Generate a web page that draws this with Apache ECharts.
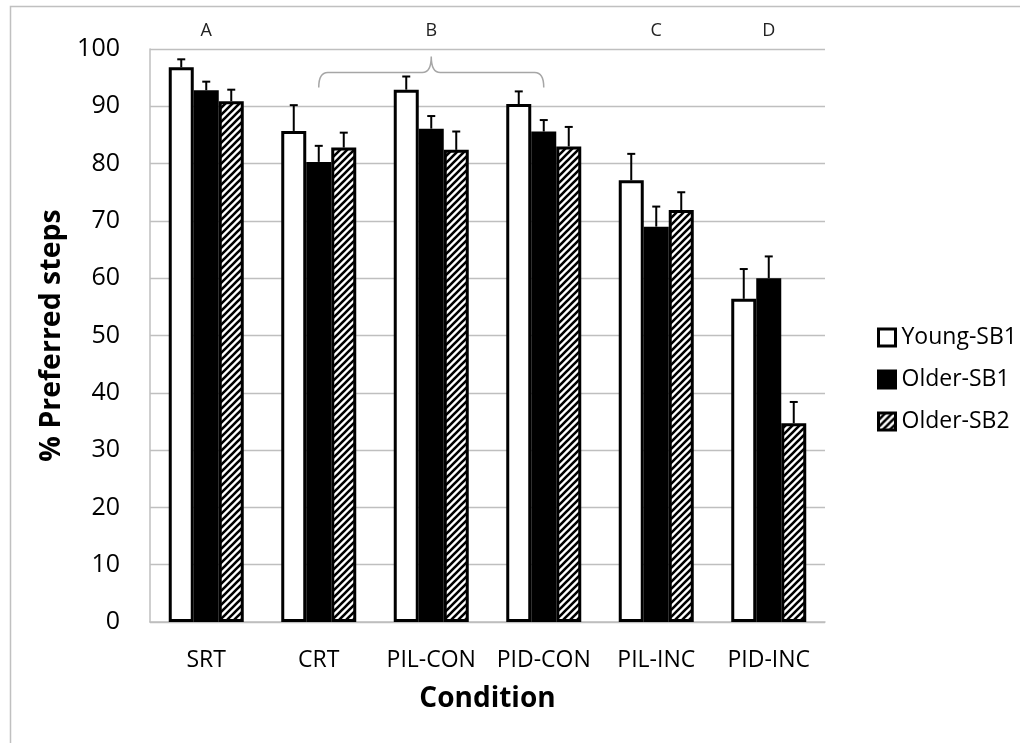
<!DOCTYPE html>
<html>
<head>
<meta charset="utf-8">
<script src="https://cdn.jsdelivr.net/npm/echarts@6/dist/echarts.min.js"></script>
<style>
html,body{margin:0;padding:0;background:#fff;}
#chart{width:1020px;height:743px;}
</style>
</head>
<body>
<div id="chart"></div>
<script>
// ---- data ----
const categories = ['SRT', 'CRT', 'PIL-CON', 'PID-CON', 'PIL-INC', 'PID-INC'];
const seriesNames = ['Young-SB1', 'Older-SB1', 'Older-SB2'];
const youngSB1 = [96.8, 85.7, 92.9, 90.4, 77.1, 56.4];
const olderSB1 = [92.8, 80.3, 86.1, 85.6, 69.0, 60.0];
const olderSB2 = [90.9, 82.8, 82.4, 83.0, 71.9, 34.7];
const youngSB1Err = [1.4, 4.5, 2.3, 2.2, 4.6, 5.2];
const olderSB1Err = [1.5, 2.8, 2.2, 2.0, 3.5, 3.8];
const olderSB2Err = [2.0, 2.6, 3.2, 3.4, 3.1, 3.7];
const yTicks = [0, 10, 20, 30, 40, 50, 60, 70, 80, 90, 100];
// significance groups (category index -> letter)
const groupLetterIndex = [0, 2, 4, 5];
const groupLetters = ['A', 'B', 'C', 'D'];
const braceRange = [1, 3]; // from CRT to PID-CON (group B)

// ---- styles ----
const FONT = 'Open Sans';
const BAR_W = 25;

function makeHatch() {
  const s = 7;
  const c = document.createElement('canvas');
  c.width = s; c.height = s;
  const g = c.getContext('2d');
  g.fillStyle = '#fff';
  g.fillRect(0, 0, s, s);
  g.strokeStyle = '#000';
  g.lineWidth = 2.6;
  g.beginPath();
  g.moveTo(-1, s + 1); g.lineTo(s + 1, -1);
  g.moveTo(-1, 1); g.lineTo(1, -1);
  g.moveTo(s - 1, s + 1); g.lineTo(s + 1, s - 1);
  g.stroke();
  return c;
}
const hatch = { image: makeHatch(), repeat: 'repeat' };

const values = [youngSB1, olderSB1, olderSB2];
const errs = [youngSB1Err, olderSB1Err, olderSB2Err];
const fills = ['#ffffff', '#000000', hatch];

const chart = echarts.init(document.getElementById('chart'), null, { renderer: 'canvas' });

const barSeries = seriesNames.map((name, i) => ({
  name: name,
  type: 'bar',
  data: values[i],
  barWidth: BAR_W,
  barGap: '0%',
  itemStyle: { color: fills[i], borderColor: '#000', borderWidth: 3 },
  emphasis: { disabled: true },
  z: 2
}));

const errSeries = seriesNames.map((name, i) => ({
  type: 'custom',
  silent: true,
  z: 3,
  data: values[i].map((v, k) => [k, v + errs[i][k], v]),
  renderItem: function (params, api) {
    const idx = api.value(0);
    const top = api.coord([idx, api.value(1)]);
    const base = api.coord([idx, api.value(2)]);
    const x = top[0] + (i - 1) * BAR_W;
    const cap = 4;
    return {
      type: 'group',
      children: [
        { type: 'line', shape: { x1: x, y1: base[1], x2: x, y2: top[1] }, style: { stroke: '#000', lineWidth: 2 } },
        { type: 'line', shape: { x1: x - cap, y1: top[1], x2: x + cap, y2: top[1] }, style: { stroke: '#000', lineWidth: 2 } }
      ]
    };
  }
}));

const letterSeries = {
  type: 'custom',
  silent: true,
  clip: false,
  data: groupLetterIndex.map(k => [k, 103.2]),
  renderItem: function (params, api) {
    const p = api.coord([api.value(0), api.value(1)]);
    return {
      type: 'text',
      x: p[0], y: p[1],
      style: {
        text: groupLetters[params.dataIndex], fill: '#222',
        fontSize: 18, fontFamily: FONT,
        align: 'center', verticalAlign: 'middle'
      }
    };
  }
};

const braceSeries = {
  type: 'custom',
  silent: true,
  clip: false,
  data: [[braceRange[0], braceRange[1]]],
  renderItem: function (params, api) {
    const a = api.coord([api.value(0), 95.9]);
    const b = api.coord([api.value(1), 95.9]);
    const yH = a[1];
    const yEnd = api.coord([0, 93.3])[1];
    const yPeak = api.coord([0, 98.7])[1];
    const x1 = a[0], x2 = b[0], xm = (x1 + x2) / 2, r = 9;
    const d = 'M' + x1 + ' ' + yEnd + ' Q' + x1 + ' ' + yH + ' ' + (x1 + r) + ' ' + yH +
      ' L' + (xm - r) + ' ' + yH + ' Q' + xm + ' ' + yH + ' ' + xm + ' ' + yPeak +
      ' Q' + xm + ' ' + yH + ' ' + (xm + r) + ' ' + yH +
      ' L' + (x2 - r) + ' ' + yH + ' Q' + x2 + ' ' + yH + ' ' + x2 + ' ' + yEnd;
    return { type: 'path', shape: { pathData: d }, style: { fill: null, stroke: '#a6a6a6', lineWidth: 1.5 } };
  }
};

const option = {
  animation: false,
  backgroundColor: '#fff',
  graphic: [{
    type: 'rect', left: 8, top: 4, silent: true,
    shape: { width: 1100, height: 900 },
    style: { fill: null, stroke: '#c0c0c0', lineWidth: 1.5 }
  }],
  grid: { left: 150, right: 195, top: 49, bottom: 121 },
  legend: {
    orient: 'vertical',
    left: 872,
    top: 321,
    itemWidth: 17,
    itemHeight: 17,
    itemGap: 19,
    icon: 'rect',
    data: seriesNames,
    itemStyle: { borderColor: '#000', borderWidth: 3 },
    textStyle: { fontFamily: FONT, fontSize: 23, color: '#000', padding: [0, 0, 0, 1] },
    selectedMode: false
  },
  xAxis: {
    type: 'category',
    data: categories,
    axisTick: { show: false },
    axisLine: { lineStyle: { color: '#bfbfbf', width: 1.5 } },
    axisLabel: { interval: 0, fontFamily: FONT, fontSize: 23, color: '#000', margin: 27 },
    name: 'Condition',
    nameLocation: 'middle',
    nameGap: 63,
    nameTextStyle: { fontFamily: FONT, fontSize: 28, fontWeight: 'bold', color: '#000' }
  },
  yAxis: {
    type: 'value',
    min: 0, max: 100, interval: 10,
    axisLine: { show: true, lineStyle: { color: '#bfbfbf', width: 1.5 } },
    axisTick: { show: false },
    splitLine: { lineStyle: { color: '#bfbfbf', width: 1.3 } },
    axisLabel: {
      fontFamily: FONT, fontSize: 25, color: '#000', margin: 30,
      formatter: v => (yTicks.indexOf(v) >= 0 ? String(v) : '')
    },
    name: '% Preferred steps',
    nameLocation: 'middle',
    nameGap: 84,
    nameTextStyle: { fontFamily: FONT, fontSize: 28.5, fontWeight: 'bold', color: '#000' }
  },
  series: [...barSeries, ...errSeries, braceSeries, letterSeries]
};
chart.setOption(option);
</script>
</body>
</html>
